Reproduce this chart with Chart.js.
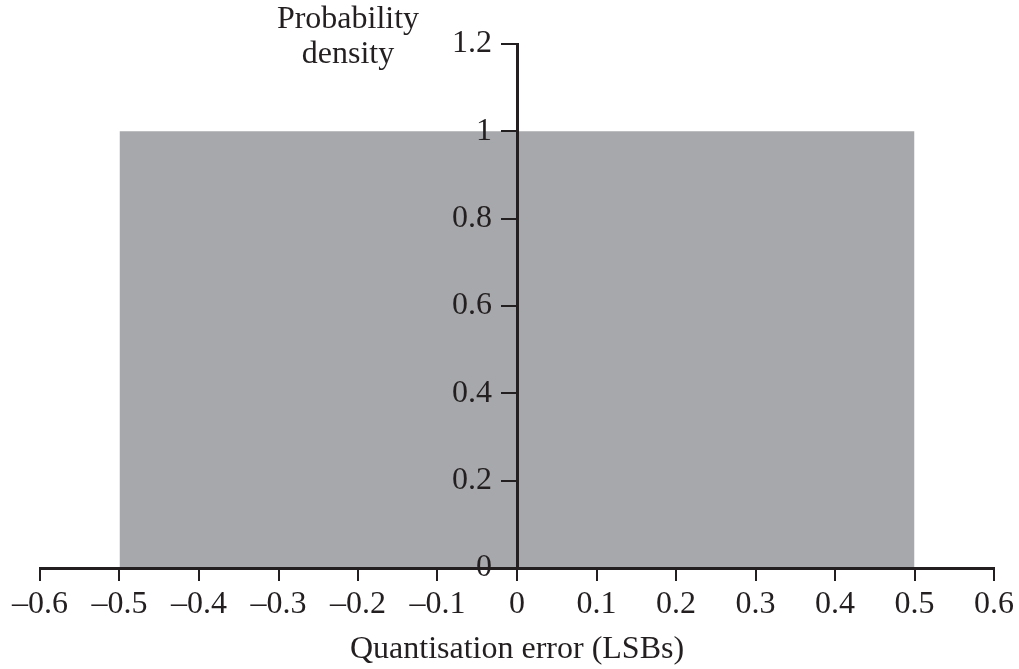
<!DOCTYPE html>
<html>
<head>
<meta charset="utf-8">
<script src="https://cdn.jsdelivr.net/npm/chart.js"></script>
<style>
  html, body { margin: 0; padding: 0; background: #fff; }
  #wrap { width: 1019px; height: 669px; }
</style>
</head>
<body>
<div id="wrap"><canvas id="chart" width="1019" height="669"></canvas></div>
<script>
// Uniform quantisation error density
const errorEdges = [-0.5, 0.5];
const densityValues = [1, 1];
const xRange = [-0.6, 0.6];
const yRange = [0, 1.2];
const xTitle = 'Quantisation error (LSBs)';
const yTitleLines = ['Probability', 'density'];

const ink = '#231f20';
const fillGrey = '#a7a8ab';
const serif = "'Liberation Serif', 'Times New Roman', serif";

function fmt(v) {
  const r = Math.round(v * 10) / 10;
  if (r === 0) return '0';
  const s = Math.abs(r).toString();
  return r < 0 ? '\u2013' + s : s;
}

// y tick labels sit left of the centred axis; drawn before the axis layer
const yLabelsPlugin = {
  id: 'yLabels',
  afterDatasetsDraw(chart) {
    const ctx = chart.ctx;
    const ys = chart.scales.y;
    const axisX = chart.scales.x.getPixelForValue(0);
    ctx.save();
    ctx.fillStyle = ink;
    ctx.font = '32px ' + serif;
    ctx.textAlign = 'right';
    ctx.textBaseline = 'middle';
    ys.ticks.forEach(t => {
      ctx.fillText(fmt(t.value), axisX - 25, ys.getPixelForValue(t.value));
    });
    ctx.restore();
  },
  afterDraw(chart) {
    const ctx = chart.ctx;
    ctx.save();
    ctx.fillStyle = ink;
    ctx.font = '32px ' + serif;
    ctx.textAlign = 'center';
    ctx.textBaseline = 'middle';
    ctx.fillText(yTitleLines[0], 348, 20);
    ctx.fillText(yTitleLines[1], 348, 55);
    ctx.restore();
  }
};

const points = errorEdges.map((x, i) => ({ x: x, y: densityValues[i] }));

new Chart(document.getElementById('chart'), {
  type: 'line',
  data: {
    datasets: [{
      data: points,
      fill: 'origin',
      backgroundColor: fillGrey,
      borderWidth: 0,
      pointRadius: 0,
      tension: 0
    }]
  },
  options: {
    responsive: false,
    animation: false,
    layout: { padding: { left: 40, right: 25, top: 44, bottom: 0 } },
    plugins: {
      legend: { display: false },
      tooltip: { enabled: false }
    },
    scales: {
      x: {
        type: 'linear',
        min: xRange[0],
        max: xRange[1],
        border: { color: ink, width: 3, z: 1 },
        grid: { drawOnChartArea: false, color: ink, tickColor: ink, tickLength: 13, lineWidth: 2, z: 1 },
        ticks: {
          stepSize: 0.1,
          color: ink,
          font: { family: serif, size: 32 },
          padding: 4,
          maxRotation: 0,
          autoSkip: false,
          z: 1,
          callback: (v) => fmt(v)
        },
        title: {
          display: true,
          text: xTitle,
          color: ink,
          font: { family: serif, size: 32 },
          padding: { top: 2, bottom: 0 }
        },
        afterFit: (scale) => { scale.height = 101; }
      },
      y: {
        type: 'linear',
        position: { x: 0 },
        min: yRange[0],
        max: yRange[1],
        border: { color: ink, width: 3, z: 1 },
        grid: { drawOnChartArea: false, color: ink, tickColor: ink, tickLength: 15, lineWidth: 2, z: 1 },
        ticks: {
          stepSize: 0.2,
          display: false
        }
      }
    }
  },
  plugins: [yLabelsPlugin]
});
</script>
</body>
</html>
